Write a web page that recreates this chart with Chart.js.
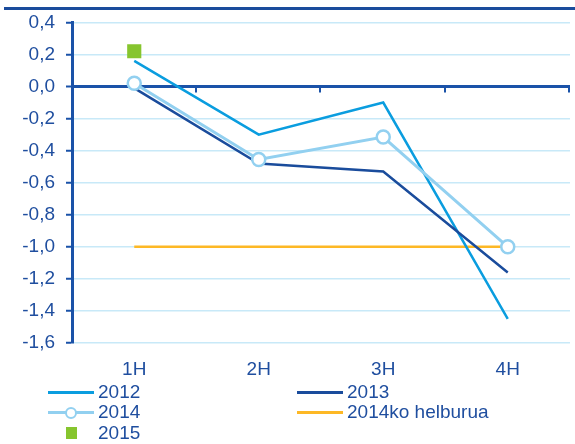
<!DOCTYPE html>
<html><head><meta charset="utf-8">
<script src="https://cdn.jsdelivr.net/npm/chart.js@4/dist/chart.umd.min.js"></script>
<style>
html,body{margin:0;padding:0;background:#fff;}
#wrap{position:relative;width:575px;height:444px;overflow:hidden;font-family:"Liberation Sans",Arial,sans-serif;}
#topline{position:absolute;left:4px;right:0;top:7px;height:3px;background:#1a4c9c;}
canvas{position:absolute;left:0;top:0;}
.lg{position:absolute;font-size:19px;color:#1f4e9f;line-height:22px;white-space:nowrap;}
.ln{position:absolute;height:3px;}
</style></head><body>
<div id="wrap">
<canvas id="c" width="575" height="444"></canvas>
<div id="topline"></div>
<div id="legend"></div>
</div>
<script>
const categories = ['1H','2H','3H','4H'];
const s2012 = [0.16, -0.30, -0.10, -1.45];
const s2013 = [-0.01, -0.48, -0.53, -1.16];
const s2014 = [0.02, -0.455, -0.315, -1.00];
const target2014 = [-1.0, -1.0, -1.0, -1.0];
const s2015 = [0.22, null, null, null];
const yTicks = [0.4,0.2,0,-0.2,-0.4,-0.6,-0.8,-1.0,-1.2,-1.4,-1.6];

const TXT = '#1f4e9f', AXIS = '#1a52a8', GRID = '#c8e9f8';
const C2012 = '#0a9ddf', C2013 = '#1a4c9c', C2014 = '#92d0f0', CT = '#fdb825', C2015 = '#86c52e';

const zeroTicks = {
  id:'zeroTicks',
  afterDatasetsDraw(chart){
    const {ctx, chartArea, scales:{y}} = chart;
    const y0 = y.getPixelForValue(0);
    ctx.save();
    ctx.strokeStyle = AXIS; ctx.lineWidth = 2;
    for (let i=1;i<=categories.length;i++){
      const px = chartArea.left + (chartArea.right-chartArea.left)*i/categories.length;
      ctx.beginPath(); ctx.moveTo(Math.round(px)-1, y0); ctx.lineTo(Math.round(px)-1, y0+6); ctx.stroke();
    }
    ctx.restore();
  }
};

new Chart(document.getElementById('c'), {
  type:'line',
  data:{
    labels:categories,
    datasets:[
      {label:'2014ko helburua', data:target2014, borderColor:CT, borderWidth:2.5, pointRadius:0, order:5},
      {label:'2012', data:s2012, borderColor:C2012, borderWidth:2.5, pointRadius:0, order:4},
      {label:'2013', data:s2013, borderColor:C2013, borderWidth:2.5, pointRadius:0, order:3},
      {label:'2014', data:s2014, borderColor:C2014, borderWidth:3, pointRadius:6.5, pointBorderWidth:2.5,
        pointBackgroundColor:'#ffffff', pointBorderColor:C2014, order:2},
      {label:'2015', data:s2015, showLine:false, pointStyle:'rect', pointRadius:10, pointBackgroundColor:C2015,
        pointBorderColor:C2015, pointBorderWidth:0, borderColor:C2015, order:1}
    ]
  },
  options:{
    responsive:false, animation:false,
    layout:{autoPadding:false, padding:{left:0,right:5,top:22,bottom:56}},
    plugins:{legend:{display:false}, tooltip:{enabled:false}},
    scales:{
      x:{
        offset:true,
        grid:{display:false, drawTicks:false},
        border:{display:false},
        ticks:{color:TXT, font:{family:'Liberation Sans', size:19}, padding:15},
        afterFit(s){ s.height = 45; s.paddingRight = 0; s.paddingLeft = 0; }
      },
      y:{
        min:-1.6, max:0.4,
        afterBuildTicks(s){ s.ticks = yTicks.map(v=>({value:v})); },
        grid:{
          color:(c)=> Math.abs(c.tick.value)<1e-9 ? AXIS : GRID,
          lineWidth:(c)=> Math.abs(c.tick.value)<1e-9 ? 3 : 1.5,
          tickColor:AXIS, tickLength:6, tickWidth:2
        },
        border:{display:true, color:AXIS, width:3},
        ticks:{color:TXT, font:{family:'Liberation Sans', size:19}, padding:11,
          callback:(v)=> (Math.abs(v)<1e-9 ? '0,0' : v.toFixed(1).replace('.',','))},
        afterFit(s){ s.width = 72; }
      }
    }
  },
  plugins:[zeroTicks]
});

// HTML legend
const legendItems = [
  {label:'2012', color:C2012, kind:'line', x:48, y:392},
  {label:'2013', color:C2013, kind:'line', x:297, y:392},
  {label:'2014', color:C2014, kind:'circle', x:48, y:412},
  {label:'2014ko helburua', color:CT, kind:'line', x:297, y:412},
  {label:'2015', color:C2015, kind:'square', x:48, y:433}
];
const lg = document.getElementById('legend');
legendItems.forEach(it=>{
  if (it.kind==='line' || it.kind==='circle'){
    const d = document.createElement('div'); d.className='ln';
    d.style.left = it.x+'px'; d.style.top = (it.y-1)+'px'; d.style.width='46px'; d.style.background = it.color;
    lg.appendChild(d);
  }
  if (it.kind==='circle'){
    const c = document.createElement('div');
    c.style.cssText = 'position:absolute;width:8px;height:8px;border-radius:50%;background:#fff;border:2px solid '+it.color+';left:'+(it.x+17)+'px;top:'+(it.y-5)+'px;';
    lg.appendChild(c);
  }
  if (it.kind==='square'){
    const c = document.createElement('div');
    c.style.cssText = 'position:absolute;width:11px;height:12px;background:'+it.color+';left:'+(it.x+18)+'px;top:'+(it.y-6)+'px;';
    lg.appendChild(c);
  }
  const t = document.createElement('div'); t.className='lg';
  t.textContent = it.label; t.style.left = (it.x+50)+'px'; t.style.top = (it.y-11)+'px';
  lg.appendChild(t);
});
</script>
</body></html>
